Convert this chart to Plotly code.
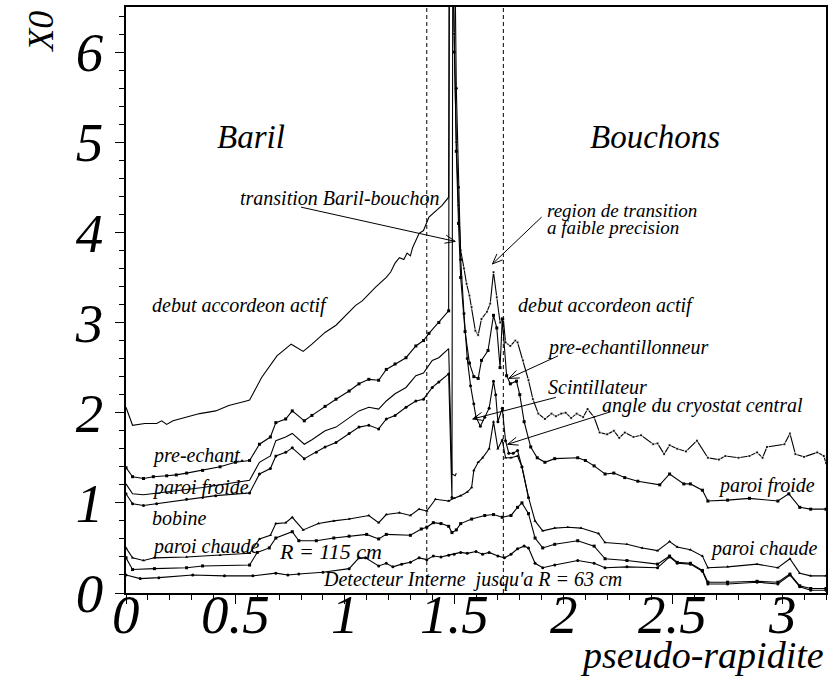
import plotly.graph_objects as go
import math

# Cumulative radiation length X0 versus pseudo-rapidity, one list pair per layer
eta_accordeon = [0.0, 0.03, 0.086, 0.14, 0.163, 0.186, 0.215, 0.277, 0.337, 0.41, 0.47, 0.55, 0.565,
                 0.62, 0.69, 0.755, 0.81, 0.85, 0.91, 0.96, 1.02, 1.05, 1.08, 1.14, 1.19, 1.21, 1.23,
                 1.25, 1.27, 1.285, 1.30, 1.31, 1.34, 1.36, 1.385, 1.415, 1.445, 1.475,
                 1.48, 1.50, 1.51, 1.52, 1.53, 1.545, 1.557, 1.57, 1.58, 1.597, 1.61, 1.625, 1.65,
                 1.665, 1.68, 1.695, 1.71, 1.725, 1.735, 1.757, 1.78, 1.79, 1.815, 1.84, 1.86, 1.885,
                 1.915, 1.945, 1.965, 1.99, 2.01, 2.035, 2.06, 2.09, 2.11, 2.14, 2.165, 2.2, 2.23,
                 2.255, 2.28, 2.32, 2.355, 2.41, 2.43, 2.46, 2.485, 2.52, 2.56, 2.61, 2.66, 2.71,
                 2.74, 2.80, 2.85, 2.885, 2.91, 2.93, 3.01, 3.035, 3.06, 3.10, 3.16, 3.19, 3.2]
x0_accordeon = [2.06, 1.86, 1.88, 1.88, 1.91, 1.87, 1.91, 1.95, 1.99, 2.02, 2.08, 2.13, 2.14,
                2.39, 2.63, 2.76, 2.68, 2.76, 2.89, 2.97, 3.11, 3.19, 3.24, 3.39, 3.50, 3.56, 3.66,
                3.72, 3.70, 3.77, 3.74, 3.83, 3.99, 4.02, 4.17, 4.24, 4.30, 4.39,
                9.50, 6.20, 5.00, 4.30, 3.80, 3.60, 3.43, 3.30, 3.17, 2.91, 2.86, 3.04, 3.12,
                3.21, 3.56, 3.28, 3.00, 3.04, 2.78, 2.74, 2.80, 2.78, 2.58, 2.36, 2.15, 1.99,
                1.93, 1.99, 1.96, 1.99, 2.00, 1.94, 1.99, 1.95, 2.04, 1.95, 1.78, 1.76, 1.80,
                1.72, 1.78, 1.73, 1.75, 1.65, 1.66, 1.54, 1.64, 1.60, 1.57, 1.69, 1.50, 1.48,
                1.52, 1.50, 1.52, 1.56, 1.50, 1.62, 1.65, 1.77, 1.54, 1.51, 1.56, 1.52, 1.44]

eta_preechant = [0.0, 0.03, 0.08, 0.125, 0.186, 0.23, 0.277, 0.35, 0.43, 0.50, 0.565, 0.61, 0.66,
                 0.685, 0.73, 0.76, 0.815, 0.85, 0.91, 0.96, 1.02, 1.065, 1.11, 1.155, 1.19, 1.23,
                 1.28, 1.325, 1.36, 1.385, 1.43, 1.475,
                 1.48, 1.50, 1.51, 1.52, 1.53, 1.55, 1.57, 1.59, 1.61, 1.625, 1.655, 1.68, 1.695,
                 1.71, 1.72, 1.74, 1.757, 1.785, 1.80, 1.82, 1.85, 1.88, 1.915, 1.96, 2.065, 2.10,
                 2.14, 2.19, 2.23, 2.28, 2.34, 2.44, 2.485, 2.55, 2.58, 2.635, 2.66, 2.75, 2.85,
                 2.98, 3.03, 3.08, 3.13, 3.2]
x0_preechant = [1.39, 1.29, 1.27, 1.29, 1.30, 1.31, 1.33, 1.36, 1.40, 1.45, 1.47, 1.65, 1.73,
                1.89, 1.93, 2.02, 1.91, 1.97, 2.07, 2.15, 2.24, 2.32, 2.37, 2.36, 2.48, 2.54,
                2.61, 2.74, 2.80, 2.88, 3.00, 3.13,
                9.00, 6.00, 4.90, 4.10, 3.50, 2.90, 2.55, 2.40, 2.38, 2.58, 2.69, 3.08, 2.94,
                2.50, 3.04, 2.41, 2.32, 2.35, 2.20, 1.90, 1.62, 1.50, 1.45, 1.49, 1.50, 1.47,
                1.41, 1.32, 1.33, 1.28, 1.24, 1.20, 1.32, 1.21, 1.21, 1.14, 1.02, 1.03, 1.05,
                1.02, 1.10, 0.95, 0.93, 0.93]

eta_paroi_froide = [0.0, 0.03, 0.08, 0.14, 0.25, 0.35, 0.47, 0.565, 0.61, 0.66, 0.685, 0.73, 0.76,
                    0.815, 0.85, 0.91, 0.96, 1.02, 1.065, 1.11, 1.155, 1.19, 1.23, 1.28, 1.325,
                    1.36, 1.40, 1.43, 1.475, 1.49, 1.505, 1.51]
x0_paroi_froide = [1.21, 1.10, 1.09, 1.11, 1.14, 1.17, 1.21, 1.25, 1.45, 1.52, 1.69, 1.73, 1.77,
                   1.65, 1.70, 1.80, 1.84, 1.94, 2.02, 2.06, 2.04, 2.13, 2.21, 2.28, 2.41,
                   2.44, 2.58, 2.61, 2.71, 1.32, 1.30, 1.33]

eta_bobine = [0.0, 0.03, 0.08, 0.14, 0.277, 0.41, 0.565, 0.61, 0.66, 0.685, 0.73, 0.76, 0.815,
              0.87, 0.91, 0.96, 1.02, 1.065, 1.11, 1.155, 1.19, 1.23, 1.28, 1.325, 1.36, 1.40,
              1.43, 1.475, 1.49, 1.495, 1.51, 1.52, 1.53, 1.545, 1.56, 1.575, 1.59, 1.60, 1.62,
              1.64, 1.66, 1.68, 1.69, 1.70, 1.72, 1.735, 1.75, 1.77, 1.79, 1.81, 1.84]
x0_bobine = [1.10, 0.99, 0.97, 0.99, 1.04, 1.08, 1.11, 1.32, 1.38, 1.52, 1.56, 1.61, 1.49,
             1.56, 1.62, 1.67, 1.77, 1.84, 1.86, 1.82, 1.93, 1.97, 2.06, 2.13, 2.15, 2.28,
             2.34, 2.43, 1.06, 9.00, 5.60, 4.50, 3.70, 3.10, 2.60, 2.30, 2.10, 1.95, 1.85,
             1.95, 2.05, 2.35, 2.20, 1.90, 2.05, 1.69, 1.55, 1.55, 1.58, 1.40, 1.06]

eta_paroi_chaude = [0.0, 0.03, 0.08, 0.13, 0.277, 0.43, 0.565, 0.61, 0.66, 0.685, 0.73, 0.76, 0.81,
                    0.88, 0.95, 1.02, 1.11, 1.155, 1.19, 1.25, 1.30, 1.34, 1.375, 1.415, 1.475,
                    1.50, 1.53, 1.56, 1.58, 1.59, 1.61, 1.63, 1.66, 1.68, 1.70, 1.72, 1.735, 1.76,
                    1.79, 1.81, 1.84, 1.87, 1.905, 1.96, 2.02, 2.08, 2.16, 2.19, 2.29, 2.36, 2.43,
                    2.485, 2.52, 2.58, 2.635, 2.66, 2.75, 2.885, 2.98, 3.035, 3.08, 3.13, 3.2]
x0_paroi_chaude = [0.50, 0.39, 0.36, 0.39, 0.40, 0.42, 0.44, 0.60, 0.64, 0.77, 0.78, 0.84, 0.70,
                   0.77, 0.80, 0.82, 0.86, 0.78, 0.87, 0.89, 0.86, 0.93, 0.91, 1.04, 1.02,
                   1.05, 1.08, 1.12, 1.17, 1.36, 1.45, 1.50, 1.60, 1.90, 1.60, 1.70, 1.50, 1.50,
                   1.52, 1.40, 1.06, 0.80, 0.69, 0.72, 0.73, 0.72, 0.66, 0.56, 0.54, 0.50, 0.47,
                   0.57, 0.51, 0.48, 0.41, 0.28, 0.29, 0.32, 0.28, 0.38, 0.22, 0.19, 0.19]

eta_r115 = [0.0, 0.03, 0.13, 0.277, 0.35, 0.565, 0.60, 0.655, 0.685, 0.76, 0.79, 0.87, 0.95, 1.02,
            1.10, 1.155, 1.19, 1.30, 1.35, 1.375, 1.405, 1.44, 1.475, 1.49, 1.51, 1.53, 1.58,
            1.64, 1.68, 1.72, 1.76, 1.79, 1.81, 1.84, 1.87, 1.905, 1.96, 2.065, 2.14, 2.19,
            2.29, 2.43, 2.485, 2.52, 2.58, 2.635, 2.66, 2.75, 2.885, 2.98, 3.035, 3.08, 3.13, 3.2]
x0_r115 = [0.39, 0.26, 0.27, 0.28, 0.30, 0.31, 0.45, 0.50, 0.61, 0.68, 0.58, 0.58, 0.61, 0.63,
           0.65, 0.60, 0.65, 0.64, 0.71, 0.73, 0.78, 0.77, 0.74, 0.67, 0.70, 0.77, 0.82,
           0.86, 0.87, 0.84, 0.86, 0.95, 1.00, 0.88, 0.61, 0.50, 0.54, 0.58, 0.52, 0.38,
           0.36, 0.32, 0.41, 0.34, 0.33, 0.25, 0.12, 0.12, 0.13, 0.12, 0.21, 0.08, 0.05, 0.05]

eta_interne = [0.0, 0.065, 0.15, 0.305, 0.45, 0.58, 0.685, 0.74, 0.79, 0.90, 1.02, 1.065, 1.095,
               1.155, 1.19, 1.22, 1.26, 1.30, 1.34, 1.375, 1.405, 1.44, 1.475, 1.50, 1.53, 1.56,
               1.60, 1.63, 1.66, 1.70, 1.73, 1.76, 1.79, 1.82, 1.84, 1.87, 1.905, 1.96, 2.065,
               2.14, 2.19, 2.29, 2.43, 2.485, 2.52, 2.58, 2.635, 2.66, 2.75, 2.885, 2.98, 3.035,
               3.08, 3.13, 3.2]
x0_interne = [0.20, 0.16, 0.17, 0.20, 0.19, 0.19, 0.22, 0.20, 0.21, 0.23, 0.27, 0.39, 0.39,
              0.30, 0.33, 0.29, 0.32, 0.34, 0.39, 0.37, 0.41, 0.40, 0.42, 0.43, 0.45, 0.44,
              0.46, 0.43, 0.45, 0.41, 0.39, 0.43, 0.49, 0.52, 0.50, 0.33, 0.28, 0.31, 0.36,
              0.33, 0.28, 0.29, 0.28, 0.40, 0.33, 0.32, 0.24, 0.10, 0.10, 0.12, 0.10, 0.20,
              0.07, 0.03, 0.03]

crack_edges = [1.375, 1.725]

x_tick_vals = [0, 0.5, 1, 1.5, 2, 2.5, 3]
x_tick_text = ["0", "0.5", "1", "1.5", "2", "2.5", "3"]
y_tick_vals = [0, 1, 2, 3, 4, 5, 6]
y_tick_text = ["0", "1", "2", "3", "4", "5", "6"]

X_RANGE = [0, 3.2]
Y_RANGE = [0, 6.5]

SERIF = "Liberation Serif, Times New Roman, serif"

fig = go.Figure()

# The accordion curve is drawn plain in the barrel and dotted from the end-cap onwards
accordeon_marker_size = [0 if e <= 1.475 else 3 for e in eta_accordeon]

layers = [
    (eta_accordeon, x0_accordeon, "square", accordeon_marker_size),
    (eta_preechant, x0_preechant, "square", 3),
    (eta_paroi_froide, x0_paroi_froide, None, 3),
    (eta_bobine, x0_bobine, "circle", 3),
    (eta_paroi_chaude, x0_paroi_chaude, "triangle-up", 3),
    (eta_r115, x0_r115, "square", 3),
    (eta_interne, x0_interne, "circle", 3),
]
for xs, ys, sym, msize in layers:
    fig.add_trace(go.Scatter(
        x=xs, y=ys,
        mode="lines+markers" if sym else "lines",
        line=dict(color="black", width=1.1),
        marker=dict(symbol=sym or "circle", size=msize, color="black"),
        showlegend=False, cliponaxis=True,
    ))

# Dashed lines bounding the barrel/end-cap transition
for e in crack_edges:
    fig.add_shape(type="line", x0=e, x1=e, y0=Y_RANGE[0], y1=Y_RANGE[1],
                  xref="x", yref="y", line=dict(color="black", width=1, dash="4px,3px"))

# Pixel scale of the plot area, used to shape arrowheads
PLOT_W, PLOT_H = 702, 586
sx = PLOT_W / (X_RANGE[1] - X_RANGE[0])
sy = PLOT_H / (Y_RANGE[1] - Y_RANGE[0])


def arrow(x_from, y_from, x_to, y_to, head=11, spread=22):
    fig.add_shape(type="line", x0=x_from, y0=y_from, x1=x_to, y1=y_to,
                  line=dict(color="black", width=1))
    dx = (x_to - x_from) * sx
    dy = (y_to - y_from) * sy
    ang = math.atan2(dy, dx)
    for s in (-1, 1):
        a = ang + math.pi + s * math.radians(spread)
        fig.add_shape(type="line", x0=x_to, y0=y_to,
                      x1=x_to + head * math.cos(a) / sx, y1=y_to + head * math.sin(a) / sy,
                      line=dict(color="black", width=1))


arrow(0.80, 4.28, 1.505, 3.90)    # transition Baril-bouchon
arrow(1.90, 4.17, 1.675, 3.65)    # region de transition
arrow(1.975, 2.63, 1.75, 2.38)    # pre-echantillonneur
arrow(1.965, 2.17, 1.585, 1.93)   # Scintillateur
arrow(2.215, 2.01, 1.745, 1.65)   # angle du cryostat central


def label(x, y, text, size=20, anchor="left"):
    fig.add_annotation(x=x, y=y, xref="x", yref="y", text=text, showarrow=False,
                       xanchor=anchor, yanchor="middle",
                       font=dict(family=SERIF, size=size, color="black", style="italic"))


label(0.57, 5.06, "Baril", size=33, anchor="center")
label(2.42, 5.06, "Bouchons", size=33, anchor="center")
label(0.51, 4.38, "transition Baril-bouchon")
label(1.915, 4.245, "region de transition", size=19)
label(1.915, 4.055, "a faible precision", size=19)
label(0.11, 3.19, "debut accordeon actif")
label(1.785, 3.19, "debut accordeon actif")
label(1.915, 2.72, "pre-echantillonneur")
label(1.92, 2.29, "Scintillateur")
label(2.167, 2.08, "angle du cryostat central")
label(0.11, 1.53, "pre-echant.")
label(0.11, 1.17, "paroi froide")
label(0.11, 0.83, "bobine")
label(0.11, 0.52, "paroi chaude")
label(0.69, 0.455, "R = 115 cm", size=22)
label(2.695, 1.19, "paroi froide")
label(2.66, 0.49, "paroi chaude")
label(0.89, 0.155, "Detecteur Interne  jusqu'a R = 63 cm", size=20)

# Tick labels of the eta axis, set just under the axis line
for v, t in zip(x_tick_vals, x_tick_text):
    fig.add_annotation(x=v, y=-0.0375, xref="x", yref="paper", text=t, showarrow=False,
                       xanchor="center", yanchor="middle",
                       font=dict(family=SERIF, size=55, color="black", style="italic"))

# Axis titles
fig.add_annotation(x=1, y=-0.105, xref="paper", yref="paper", text="pseudo-rapidite",
                   showarrow=False, xanchor="right", yanchor="middle",
                   font=dict(family=SERIF, size=38, color="black", style="italic"))
fig.add_annotation(x=-0.1225, y=0.958, xref="paper", yref="paper", text="X0",
                   showarrow=False, textangle=-90, xanchor="center", yanchor="middle",
                   font=dict(family=SERIF, size=36, color="black", style="italic"))

fig.update_xaxes(
    range=X_RANGE, tickmode="array", tickvals=x_tick_vals, showticklabels=False,
    ticks="outside", ticklen=9, tickwidth=1, tickcolor="black",
    minor=dict(dtick=0.1, ticks="outside", ticklen=5, tickcolor="black", showgrid=False),
    showline=True, linecolor="black", linewidth=1.5, mirror=True,
    showgrid=False, zeroline=False,
)
fig.update_yaxes(
    range=Y_RANGE, tickmode="array", tickvals=y_tick_vals, ticktext=y_tick_text,
    ticks="outside", ticklen=9, tickwidth=1, tickcolor="black",
    minor=dict(dtick=0.2, ticks="outside", ticklen=5, tickcolor="black", showgrid=False),
    showline=True, linecolor="black", linewidth=1.5, mirror=True,
    showgrid=False, zeroline=False, ticklabelstandoff=1,
    tickfont=dict(family=SERIF, size=55, color="black", style="italic"),
)

fig.update_layout(
    width=829, height=677,
    margin=dict(l=126, r=1, t=7, b=84),
    paper_bgcolor="white", plot_bgcolor="white",
)

fig.write_html("out.html")
